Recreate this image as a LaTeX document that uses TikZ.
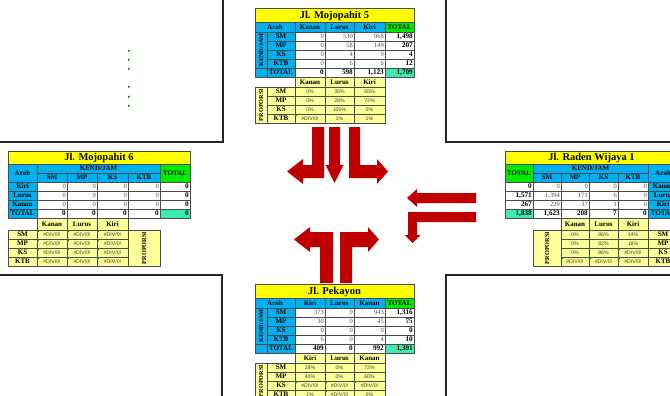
\documentclass[tikz,border=0pt]{standalone}
\usepackage{fontspec}
\setmainfont{Liberation Serif}
\newfontfamily\arialf{Liberation Sans}
\definecolor{ttl}{RGB}{255,255,0}
\definecolor{hb}{RGB}{0,176,240}
\definecolor{tg}{RGB}{0,235,0}
\definecolor{gt}{RGB}{60,235,180}
\definecolor{py}{RGB}{255,255,153}
\definecolor{ar}{RGB}{192,0,0}
\definecolor{xg}{RGB}{0,150,0}
\tikzset{
  cellb/.style={draw=black!70, line width=0.35pt},
  hdrt/.style={font=\bfseries\fontsize{7}{8}\selectfont, inner sep=0pt, text height=4.6pt, text depth=0pt},
  ttlt/.style={font=\bfseries\fontsize{10.5}{12}\selectfont, inner sep=0pt, text height=6.9pt, text depth=0pt},
  vtt/.style={font=\bfseries\fontsize{6.2}{7}\selectfont, inner sep=0pt, text height=4.1pt, text depth=0pt},
  numt/.style={font=\fontsize{6.5}{7}\selectfont, text=black!70, inner sep=0pt, text height=4.4pt, text depth=0pt},
  numb/.style={font=\bfseries\fontsize{7.2}{8}\selectfont, inner sep=0pt, text height=4.8pt, text depth=0pt},
  prt/.style={font=\arialf\fontsize{5.2}{6}\selectfont, text=black!75, inner sep=0pt, text height=3.7pt, text depth=0pt},
  road/.style={draw=black!85, line width=1.6pt},
  arrowshape/.style={fill=ar}
}
\newcounter{cn}
\newcommand\dvz{\#DIV/0!}
\newcommand\cBox[5]{\filldraw[cellb, fill=#5] (#1,#2) rectangle (#3,#4);}
\newcommand\cHd[6]{\cBox{#1}{#2}{#3}{#4}{#5}\stepcounter{cn}\node[hdrt] (n\arabic{cn}) at ({(#1+#3)/2},{(#2+#4)/2}) {#6};}
\newcommand\cTt[5]{\cBox{#1}{#2}{#3}{#4}{ttl}\stepcounter{cn}\node[ttlt] (n\arabic{cn}) at ({(#1+#3)/2},{(#2+#4)/2}) {#5};}
\newcommand\cVt[6]{\cBox{#1}{#2}{#3}{#4}{#5}\stepcounter{cn}\node[vtt, rotate=90] (n\arabic{cn}) at ({(#1+#3)/2},{(#2+#4)/2}) {#6};}
\newcommand\cNm[5]{\cBox{#1}{#2}{#3}{#4}{white}\stepcounter{cn}\node[numt, anchor=east] (n\arabic{cn}) at ({#3-1},{(#2+#4)/2}) {#5};}
\newcommand\cNb[6]{\cBox{#1}{#2}{#3}{#4}{#5}\stepcounter{cn}\node[numb, anchor=east] (n\arabic{cn}) at ({#3-1},{(#2+#4)/2}) {#6};}
\newcommand\cPr[5]{\cBox{#1}{#2}{#3}{#4}{py}\stepcounter{cn}\node[prt] (n\arabic{cn}) at ({(#1+#3)/2},{(#2+#4)/2}) {#5};}
\newcommand\cEr[2]{\fill[xg] (#1+0.4,#2+0.4) -- ++(2.6,0) -- ++(-2.6,2.6) -- cycle;}
% rows for top / bottom tables
\newcommand\rowTB[7]{\cHd{267}{#1}{295}{#2}{hb}{#3}\cNm{295}{#1}{325}{#2}{#4}\cNm{325}{#1}{354}{#2}{#5}\cNm{354}{#1}{385}{#2}{#6}\cNb{385}{#1}{414}{#2}{white}{#7}}
\newcommand\prowTB[6]{\cHd{267}{#1}{295}{#2}{py}{#3}\cPr{295}{#1}{325}{#2}{#4}\cPr{325}{#1}{354}{#2}{#5}\cPr{354}{#1}{385}{#2}{#6}}
% rows for left table
\newcommand\rowL[8]{\cHd{8}{#1}{37}{#2}{hb}{#3}\cNm{37}{#1}{67}{#2}{#4}\cNm{67}{#1}{97}{#2}{#5}\cNm{97}{#1}{128}{#2}{#6}\cNm{128}{#1}{160}{#2}{#7}\cNb{160}{#1}{190}{#2}{white}{#8}}
\newcommand\prowL[6]{\cHd{8}{#1}{37}{#2}{py}{#3}\cPr{37}{#1}{67}{#2}{#4}\cPr{67}{#1}{97}{#2}{#5}\cPr{97}{#1}{128}{#2}{#6}}
% rows for right table
\newcommand\rowR[8]{\cNb{505}{#1}{533}{#2}{white}{#4}\cNm{533}{#1}{561}{#2}{#5}\cNm{561}{#1}{589}{#2}{#6}\cNm{589}{#1}{618}{#2}{#7}\cNm{618}{#1}{648}{#2}{#8}\cHd{648}{#1}{678}{#2}{hb}{#3}}
\newcommand\prowR[6]{\cPr{561}{#1}{589}{#2}{#4}\cPr{589}{#1}{618}{#2}{#5}\cPr{618}{#1}{648}{#2}{#6}\cHd{648}{#1}{678}{#2}{py}{#3}}
\begin{document}
\begin{tikzpicture}[x=1pt,y=-1pt]
\useasboundingbox (0,0) rectangle (670,396);
\clip (0,0) rectangle (670,396);
\fill[white] (0,0) rectangle (670,396);
% roads
\draw[road] (0,142) -- (223,142) -- (223,-2);
\draw[road] (446,-2) -- (446,142) -- (672,142);
\draw[road] (-2,275) -- (222,275) -- (222,398);
\draw[road] (672,275) -- (446,275) -- (446,398);
% stray indicators
\foreach \yy in {50,59,68,86,96,105} {\fill[xg] (128,\yy) -- ++(2.4,0) -- ++(-2.4,2.4) -- cycle;}
% ===== TOP: Jl. Mojopahit 5 =====
\cTt{255}{8}{414}{22}{Jl. Mojopahit 5}
\cHd{255}{22}{295}{32}{hb}{Arah}
\cHd{295}{22}{325}{32}{hb}{Kanan}
\cHd{325}{22}{354}{32}{hb}{Lurus}
\cHd{354}{22}{385}{32}{hb}{Kiri}
\cHd{385}{22}{414}{32}{tg}{TOTAL}
\cVt{255}{32}{267}{68}{hb}{KEND/JAM}
\rowTB{32}{41}{SM}{0}{530}{968}{1,498}
\rowTB{41}{50}{MP}{0}{58}{149}{207}
\rowTB{50}{59}{KS}{0}{4}{0}{4}
\rowTB{59}{68}{KTB}{0}{6}{6}{12}
\cHd{255}{68}{267}{77}{hb}{}
\cHd{267}{68}{295}{77}{hb}{TOTAL}
\cNb{295}{68}{325}{77}{white}{0}
\cNb{325}{68}{354}{77}{white}{598}
\cNb{354}{68}{385}{77}{white}{1,123}
\cNb{385}{68}{414}{77}{gt}{1,709}
\cHd{295}{77}{325}{87}{py}{Kanan}
\cHd{325}{77}{354}{87}{py}{Lurus}
\cHd{354}{77}{385}{87}{py}{Kiri}
\cVt{255}{87}{267}{123}{py}{PROPORSI}
\prowTB{87}{96}{SM}{0\%}{35\%}{65\%}
\prowTB{96}{105}{MP}{0\%}{28\%}{72\%}
\prowTB{105}{114}{KS}{0\%}{100\%}{0\%}
\prowTB{114}{123}{KTB}{\dvz}{1\%}{1\%}
\cEr{295}{114}
% ===== BOTTOM: Jl. Pekayon =====
\cTt{255}{284}{414}{298}{Jl. Pekayon}
\cHd{255}{298}{295}{308}{hb}{Arah}
\cHd{295}{298}{325}{308}{hb}{Kiri}
\cHd{325}{298}{354}{308}{hb}{Lurus}
\cHd{354}{298}{385}{308}{hb}{Kanan}
\cHd{385}{298}{414}{308}{tg}{TOTAL}
\cVt{255}{308}{267}{344}{hb}{KEND/JAM}
\rowTB{308}{317}{SM}{373}{0}{943}{1,316}
\rowTB{317}{326}{MP}{30}{0}{45}{75}
\rowTB{326}{335}{KS}{0}{0}{0}{0}
\rowTB{335}{344}{KTB}{6}{0}{4}{10}
\cHd{255}{344}{267}{353}{hb}{}
\cHd{267}{344}{295}{353}{hb}{TOTAL}
\cNb{295}{344}{325}{353}{white}{409}
\cNb{325}{344}{354}{353}{white}{0}
\cNb{354}{344}{385}{353}{white}{992}
\cNb{385}{344}{414}{353}{gt}{1,391}
\cHd{295}{353}{325}{363}{py}{Kiri}
\cHd{325}{353}{354}{363}{py}{Lurus}
\cHd{354}{353}{385}{363}{py}{Kanan}
\cVt{255}{363}{267}{399}{py}{PROPORSI}
\prowTB{363}{372}{SM}{28\%}{0\%}{72\%}
\prowTB{372}{381}{MP}{40\%}{0\%}{60\%}
\prowTB{381}{390}{KS}{\dvz}{\dvz}{\dvz}
\prowTB{390}{399}{KTB}{1\%}{\dvz}{0\%}
\cEr{295}{381}\cEr{325}{381}\cEr{354}{381}\cEr{325}{390}
% ===== LEFT: Jl. Mojopahit 6 =====
\cTt{8}{151}{190}{164}{Jl. Mojopahit 6}
\cHd{8}{164}{37}{182}{hb}{Arah}
\cHd{37}{164}{160}{173}{hb}{KEND/JAM}
\cHd{37}{173}{67}{182}{hb}{SM}
\cHd{67}{173}{97}{182}{hb}{MP}
\cHd{97}{173}{128}{182}{hb}{KS}
\cHd{128}{173}{160}{182}{hb}{KTB}
\cHd{160}{164}{190}{182}{tg}{TOTAL}
\rowL{182}{191}{Kiri}{0}{0}{0}{0}{0}
\rowL{191}{200}{Lurus}{0}{0}{0}{0}{0}
\rowL{200}{209}{Kanan}{0}{0}{0}{0}{0}
\cHd{8}{209}{37}{218}{hb}{TOTAL}
\cNb{37}{209}{67}{218}{white}{0}
\cNb{67}{209}{97}{218}{white}{0}
\cNb{97}{209}{128}{218}{white}{0}
\cNb{128}{209}{160}{218}{white}{0}
\cNb{160}{209}{190}{218}{gt}{0}
\cHd{37}{218}{67}{230}{py}{Kanan}
\cHd{67}{218}{97}{230}{py}{Lurus}
\cHd{97}{218}{128}{230}{py}{Kiri}
\cVt{128}{230}{160}{266}{py}{PROPORSI}
\prowL{230}{239}{SM}{\dvz}{\dvz}{\dvz}
\prowL{239}{248}{MP}{\dvz}{\dvz}{\dvz}
\prowL{248}{257}{KS}{\dvz}{\dvz}{\dvz}
\prowL{257}{266}{KTB}{\dvz}{\dvz}{\dvz}
\foreach \yy in {230,239,248,257} {\foreach \xx in {37,67,97} {\cEr{\xx}{\yy}}}
% ===== RIGHT: Jl. Raden Wijaya 1 =====
\cTt{505}{151}{678}{164}{Jl. Raden Wijaya 1}
\cHd{505}{164}{533}{182}{tg}{TOTAL}
\cHd{533}{164}{648}{173}{hb}{KEND/JAM}
\cHd{533}{173}{561}{182}{hb}{SM}
\cHd{561}{173}{589}{182}{hb}{MP}
\cHd{589}{173}{618}{182}{hb}{KS}
\cHd{618}{173}{648}{182}{hb}{KTB}
\cHd{648}{164}{678}{182}{hb}{Arah}
\rowR{182}{191}{Kanan}{0}{0}{0}{0}{0}
\rowR{191}{200}{Lurus}{1,571}{1,394}{171}{6}{0}
\rowR{200}{209}{Kiri}{267}{229}{37}{1}{0}
\cNb{505}{209}{533}{218}{gt}{1,838}
\cNb{533}{209}{561}{218}{white}{1,623}
\cNb{561}{209}{589}{218}{white}{208}
\cNb{589}{209}{618}{218}{white}{7}
\cNb{618}{209}{648}{218}{white}{0}
\cHd{648}{209}{678}{218}{hb}{TOTAL}
\cHd{561}{218}{589}{230}{py}{Kanan}
\cHd{589}{218}{618}{230}{py}{Lurus}
\cHd{618}{218}{648}{230}{py}{Kiri}
\cVt{533}{230}{561}{266}{py}{PROPORSI}
\prowR{230}{239}{SM}{0\%}{86\%}{14\%}
\prowR{239}{248}{MP}{0\%}{82\%}{18\%}
\prowR{248}{257}{KS}{0\%}{86\%}{\dvz}
\prowR{257}{266}{KTB}{\dvz}{\dvz}{\dvz}
\cEr{618}{248}\cEr{561}{257}\cEr{589}{257}\cEr{618}{257}
% ===== ARROWS =====
\fill[arrowshape] (312,127) -- (324,127) -- (324,178) -- (303,178) -- (303,184) -- (287,171.5) -- (303,159) -- (303,165) -- (312,165) -- cycle;
\fill[arrowshape] (329,127) -- (340,127) -- (340,165) -- (343.5,165) -- (334.5,183) -- (325.5,165) -- (329,165) -- cycle;
\fill[arrowshape] (349,127) -- (360,127) -- (360,165) -- (377,165) -- (377,159) -- (388,171.5) -- (377,184) -- (377,178) -- (349,178) -- cycle;
\fill[arrowshape] (333,283) -- (320,283) -- (320,247) -- (310,247) -- (310,252) -- (294,239.5) -- (310,227) -- (310,232) -- (333,232) -- cycle;
\fill[arrowshape] (340,283) -- (352,283) -- (352,247) -- (368,247) -- (368,252) -- (379,239.5) -- (368,227) -- (368,232) -- (340,232) -- cycle;
\fill[arrowshape] (476,193) -- (417,193) -- (417,189) -- (407,198) -- (417,207) -- (417,203) -- (476,203) -- cycle;
\fill[arrowshape] (476,212) -- (408,212) -- (408,235) -- (404.5,235) -- (412.5,243) -- (420.5,235) -- (417,235) -- (417,222) -- (476,222) -- cycle;
\end{tikzpicture}
\end{document}
